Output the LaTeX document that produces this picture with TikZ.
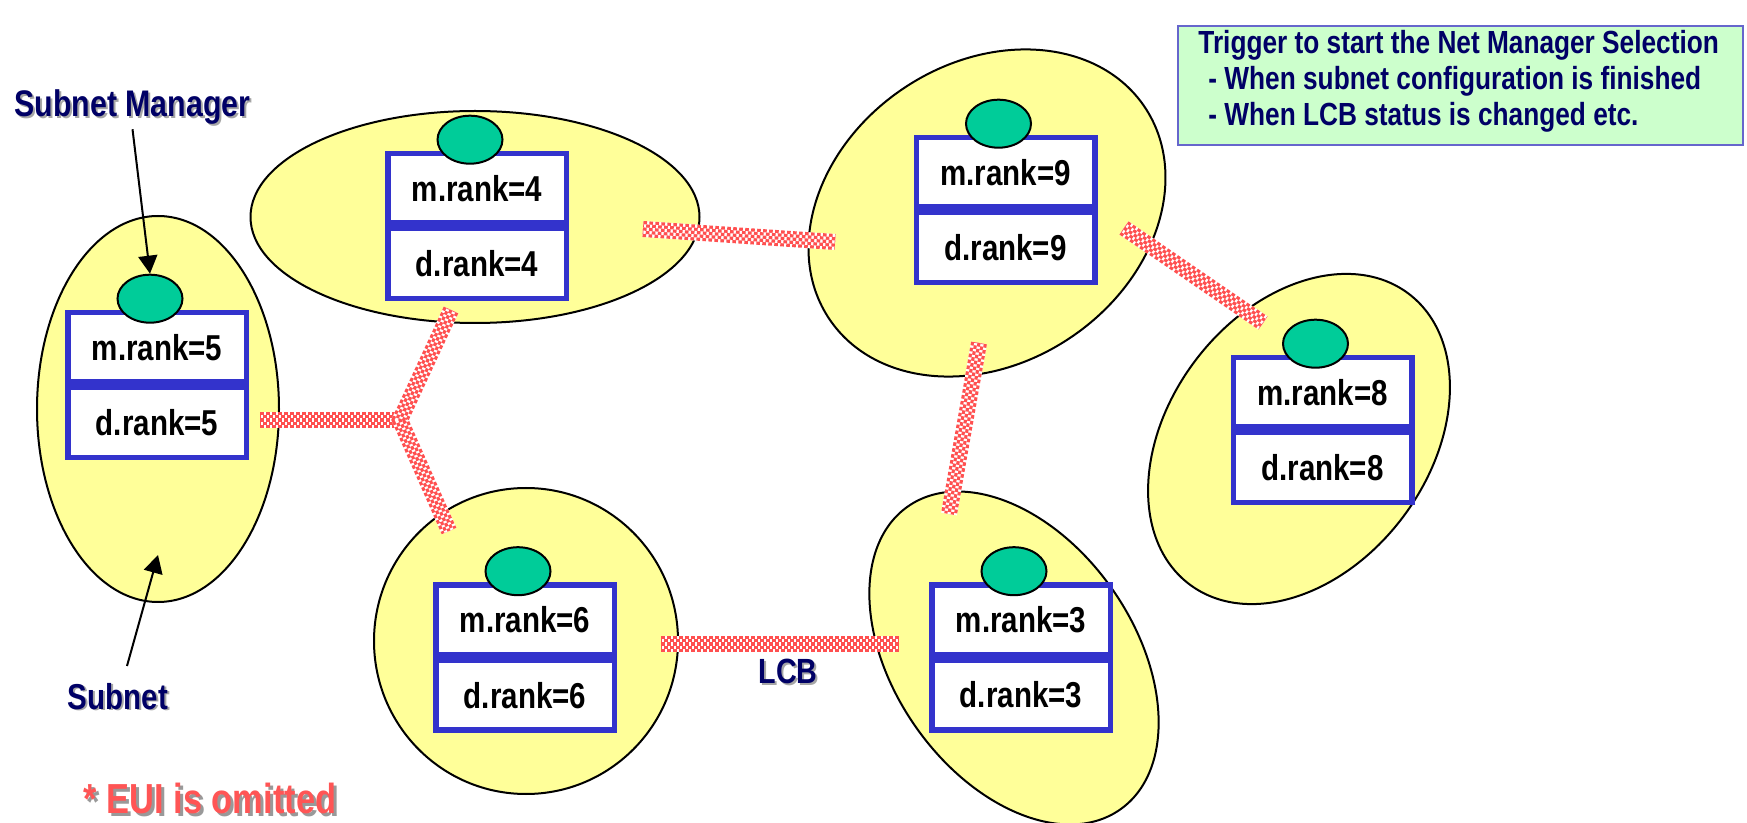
\documentclass[tikz,border=0pt]{standalone}
\usepackage{fontspec}
\setmainfont{Liberation Sans}
\newfontfamily\narrowfont[FakeStretch=0.82]{Liberation Sans}
\usetikzlibrary{shapes.geometric, arrows.meta, calc}

\definecolor{subnetfill}{RGB}{255,255,153}
\definecolor{mgrgreen}{RGB}{0,204,153}
\definecolor{rankblue}{RGB}{51,51,204}
\definecolor{navy}{RGB}{0,0,102}
\definecolor{lcbred}{RGB}{255,80,80}
\definecolor{notefill}{RGB}{204,255,204}
\definecolor{noteborder}{RGB}{102,102,204}
\definecolor{euired}{RGB}{255,85,85}

\newcommand\nbf[1]{\narrowfont\bfseries\fontsize{#1}{#1}\selectfont}

% one subnet's rank table: name, centre x, divider y, m.rank, d.rank
\newcommand\rankpair[5]{%
  \coordinate (#1div) at (#2,#3);
  \node[rankcell, anchor=south] (#1m) at (#1div) {m.rank=#4};
  \node[rankcell, anchor=north] (#1d) at (#1div) {d.rank=#5};
  \node[manager] (#1mgr) at ($(#1m.north)+(-7,-11)$) {};
}

\begin{document}
\begin{tikzpicture}[x=0.5pt, y=-0.5pt,
  subnet/.style={ellipse, draw=black, line width=1pt, fill=subnetfill, inner sep=0pt},
  manager/.style={ellipse, draw=black, line width=1pt, fill=mgrgreen,
    minimum width=32.5pt, minimum height=24pt, inner sep=0pt},
  rankcell/.style={rectangle, draw=rankblue, line width=2.75pt, fill=white,
    minimum width=89.25pt, minimum height=34.9pt, inner sep=0pt, font={\nbf{18pt}}},
  lcb/.style={line width=8pt, draw=white,
    postaction={draw=lcbred, line width=8pt, dash pattern=on 1.8pt off 1.2pt},
    postaction={draw=white, line width=4.8pt},
    postaction={draw=lcbred, line width=4.8pt, dash pattern=on 1.8pt off 1.2pt, dash phase=1.5pt},
    postaction={draw=white, line width=1.6pt},
    postaction={draw=lcbred, line width=1.6pt, dash pattern=on 1.8pt off 1.2pt}},
  lbl/.style={text=navy, inner sep=2pt},
  shade/.style={text=black!35, inner sep=2pt},
  ptr/.style={draw=black, line width=1pt, -{Triangle[length=9pt, width=9.5pt]}},
  notebox/.style={rectangle, draw=noteborder, line width=1pt, fill=notefill, inner sep=0pt},
  noteline/.style={text=navy, inner sep=0pt, anchor=base west, font={\nbf{16pt}}}
]
\useasboundingbox (0,0) rectangle (1747,823);

% subnets
\node[subnet, minimum width=121pt, minimum height=193pt] (s5) at (158,409) {};
\node[subnet, minimum width=224.5pt, minimum height=106pt] (s4) at (475,217) {};
\node[subnet, minimum width=190pt, minimum height=150pt, rotate=34] (s9) at (987,213) {};
\node[subnet, minimum width=182pt, minimum height=130pt, rotate=53] (s8) at (1299,439) {};
\node[subnet, minimum width=152pt, minimum height=153pt] (s6) at (526,641) {};
\node[subnet, minimum width=185pt, minimum height=120pt, rotate=-55] (s3) at (1014,658) {};

% LCB links
\coordinate (J) at (400,420);
\coordinate (l5) at (260,420);
\coordinate (l4) at (451,310);
\coordinate (l6) at (449,531);
\coordinate (l49a) at (643,229);
\coordinate (l49b) at (835,242);
\coordinate (l98a) at (1124,228);
\coordinate (l98b) at (1263,323);
\coordinate (l93a) at (979,343);
\coordinate (l93b) at (949,514);
\coordinate (l63a) at (661,644);
\coordinate (l63b) at (899,644);
\draw[lcb] (l5) -- (J);
\draw[lcb] (l4) -- (J) -- (l6);
\draw[lcb] (l49a) -- (l49b);
\draw[lcb] (l98a) -- (l98b);
\draw[lcb] (l93a) -- (l93b);
\draw[lcb] (l63a) -- (l63b);

% rank tables and subnet managers
\rankpair{b5}{157}{385}{5}{5}
\rankpair{b4}{477}{226}{4}{4}
\rankpair{b9}{1005.5}{210}{9}{9}
\rankpair{b8}{1322.5}{430}{8}{8}
\rankpair{b6}{525}{657.5}{6}{6}
\rankpair{b3}{1021}{657.5}{3}{3}

% labels
\node[shade, anchor=base, font={\nbf{18.5pt}}] (smshade) at (134.5,119) {Subnet Manager};
\node[lbl, anchor=base, font={\nbf{18.5pt}}] (smlabel) at (132.5,117) {Subnet Manager};
\draw[ptr] (smlabel.south) -- (b5mgr.north);

\node[shade, anchor=base, font={\nbf{18pt}}] (snshade) at (120,711) {Subnet};
\node[lbl, anchor=base, font={\nbf{18pt}}] (snlabel) at (118,709) {Subnet};
\coordinate (sntail) at (127,666);
\coordinate (sntip) at (158,555);
\draw[ptr] (sntail) -- (sntip);

\node[shade, anchor=base, font={\nbf{17.5pt}}] (lcbshade) at (790,685) {LCB};
\node[lbl, anchor=base, font={\nbf{17.5pt}}] (lcblabel) at (788,683) {LCB};

\node[shade, anchor=base, font={\nbf{21pt}}, text=black!40] (euishade) at (213,816) {* EUI is omitted};
\node[anchor=base, inner sep=2pt, text=euired, font={\nbf{21pt}}] (eui) at (210,813) {* EUI is omitted};

% trigger note
\node[notebox, minimum width=282.5pt, minimum height=59.5pt] (trig) at (1460.5,85.5) {};
\node[noteline] (trig1) at (1198,54) {Trigger to start the Net Manager Selection};
\node[noteline] (trig2) at (1208,90) {- When subnet configuration is finished};
\node[noteline] (trig3) at (1208,126) {- When LCB status is changed etc.};
\end{tikzpicture}
\end{document}
